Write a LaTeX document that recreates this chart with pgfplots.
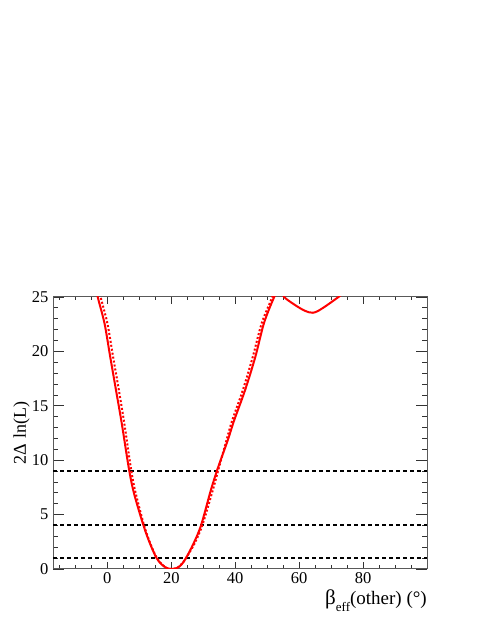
\documentclass[border=0pt]{standalone}
\usepackage{fontspec}
\setmainfont{Liberation Serif}
\usepackage{pgfplots}
\pgfplotsset{compat=1.18}
\definecolor{axgray}{gray}{0.35}
\begin{document}
\begin{tikzpicture}
\useasboundingbox (0,0) rectangle (485pt,628pt);
\begin{axis}[
  at={(53pt,59pt)}, anchor=south west,
  scale only axis, width=374pt, height=272pt,
  xmin=-17, xmax=100, ymin=0, ymax=25,
  xtick={0,20,40,60,80},
  minor xtick={-15,-10,-5,5,10,15,25,30,35,45,50,55,65,70,75,85,90,95},
  ytick={0,5,10,15,20,25},
  minor ytick={1,2,3,4,6,7,8,9,11,12,13,14,16,17,18,19,21,22,23,24},
  tick align=inside,
  axis line style={axgray, line width=1pt},
  every tick/.style={black!80, line width=0.8pt},
  xtick style={/pgfplots/major tick length=7pt, /pgfplots/minor tick length=3.5pt},
  ytick style={/pgfplots/major tick length=11pt, /pgfplots/minor tick length=5pt},
  /pgf/number format/assume math mode=true,
  tick label style={font=\fontsize{16.5}{18}\selectfont},
  xticklabel style={inner sep=0.5pt, yshift=-3pt},
  yticklabel style={xshift=-1pt},
  ylabel={2Δ ln(L)},
  ylabel style={at={(axis description cs:-0.084,0.5)}, anchor=center, font=\fontsize{18}{20}\selectfont},
  xlabel={\fontsize{21}{21}\selectfont β\raisebox{-7pt}{\fontsize{13}{13}\selectfont eff}\fontsize{19}{19}\selectfont(other) (°)},
  xlabel style={at={(axis description cs:1,-0.132)}, anchor=base east, inner sep=0pt},
  clip=true,
]
% horizontal reference lines
\addplot[black, line width=1.6pt, dash pattern=on 4pt off 3pt] coordinates {(-17,1) (100,1)};
\addplot[black, line width=1.6pt, dash pattern=on 4pt off 3pt] coordinates {(-17,4.02) (100,4.02)};
\addplot[black, line width=1.6pt, dash pattern=on 4pt off 3pt] coordinates {(-17,9) (100,9)};
% dotted curve
\addplot[red, line width=2pt, dash pattern=on 2pt off 2pt, smooth] coordinates {
(-2.6,26) (-2.1,25) (0.0,22.6) (1.8,19.5) (3.6,16.45) (5.3,13.4) (7.3,9.4) (8.6,7.3)
(11.5,4) (13.5,2.3) (15.5,1) (17.1,0.42) (18.6,0.1) (20.2,0) (21.9,0.12) (23.2,0.45)
(24.6,1) (27.2,2.3) (29.7,4) (33.0,7.26) (34.8,9.2) (37.3,11.86) (39.0,13.6)
(42.4,16.45) (45.5,19.5) (48.3,22.6) (51.6,25) (52.6,26)};
% solid curve
\addplot[red, line width=2pt, smooth] coordinates {
(-3.4,26) (-3.0,25) (-0.9,22.6) (0.9,19.5) (2.7,16.45) (4.5,13.4) (6.7,9.3) (8.3,7.0)
(11.3,4) (13.4,2.3) (15.4,1) (17.0,0.42) (18.5,0.1) (20.2,0) (22.0,0.12) (23.3,0.45)
(24.6,1) (26.9,2.3) (29.3,4) (32.4,7.26) (34.6,9.3) (37.7,11.86) (39.6,13.6)
(43.1,16.45) (46.3,19.5) (49.0,22.6) (52.2,25) (53.8,25.7) (55.3,25)
(58.0,24.4) (61.0,23.85) (63.0,23.6) (64.3,23.55) (65.8,23.7) (68.5,24.2) (72.3,25) (74,25.4)};
\end{axis}
\end{tikzpicture}
\end{document}
